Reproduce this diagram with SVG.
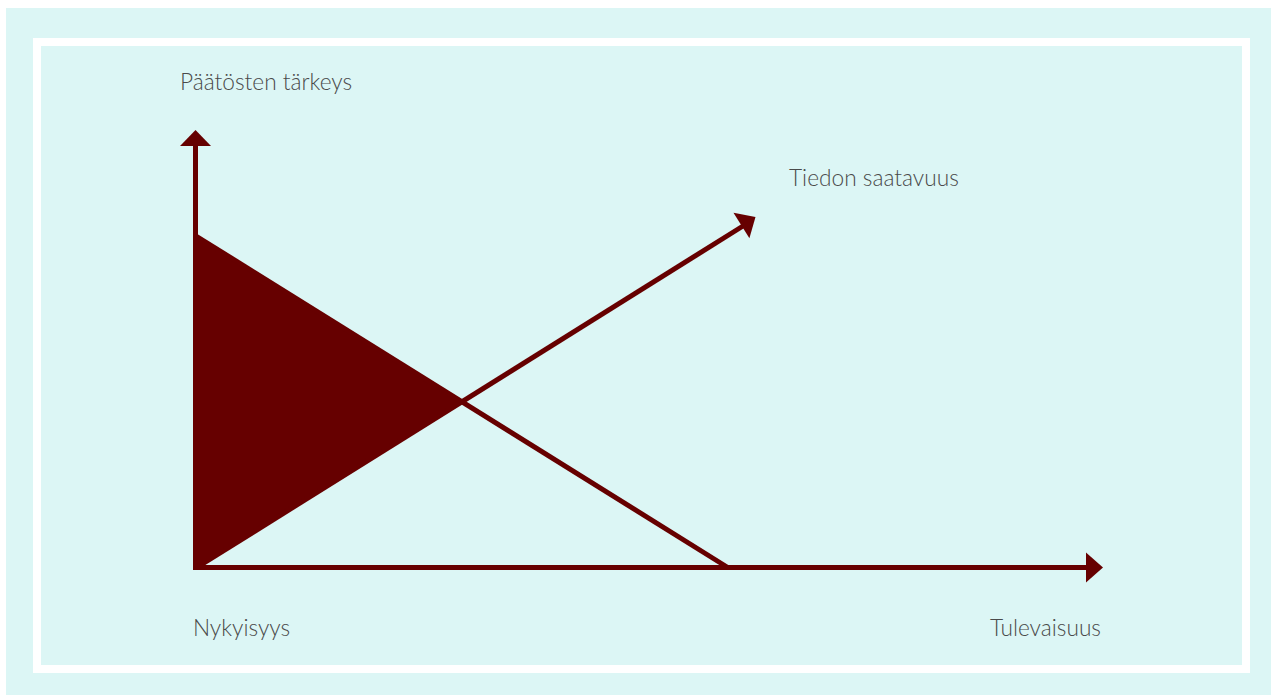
<svg xmlns="http://www.w3.org/2000/svg" width="1271" height="695" viewBox="0 0 1271 695">
<style>
.lbl{font-family:"Lato","Liberation Sans",sans-serif;font-size:22.7px;fill:#4a4a4a;font-weight:300}
.ax{stroke:#660000;stroke-width:5;fill:none}
.head{fill:#660000}
</style>
<rect x="0" y="0" width="1271" height="695" fill="#ffffff"/>
<rect x="6" y="8" width="1265" height="687" fill="#dcf6f5"/>
<rect x="37" y="42" width="1209" height="627" fill="#dcf6f5" stroke="#ffffff" stroke-width="8"/>
<g id="area">
<polygon points="193,236 462,402 193,570" fill="#660000"/>
</g>
<g id="connectors">
<line class="ax" x1="195.5" y1="570" x2="195.5" y2="144"/>
<polygon class="head" points="180,146 195.5,130 211,146"/>
<line class="ax" x1="193" y1="567.5" x2="1088" y2="567.5"/>
<polygon class="head" points="1086,552.5 1103,567.5 1086,582.5"/>
<line class="ax" x1="196" y1="568" x2="743" y2="226"/>
<polygon class="head" points="733.5,212.8 755.5,217 749.4,238.2"/>
<line class="ax" x1="196" y1="236" x2="727" y2="567"/>
</g>
<g id="label-y"><text class="lbl" x="180" y="90">Päätösten tärkeys</text></g>
<g id="label-diag"><text class="lbl" x="789" y="186">Tiedon saatavuus</text></g>
<g id="label-now"><text class="lbl" x="193" y="636">Nykyisyys</text></g>
<g id="label-future"><text class="lbl" x="990" y="636">Tulevaisuus</text></g>
</svg>
